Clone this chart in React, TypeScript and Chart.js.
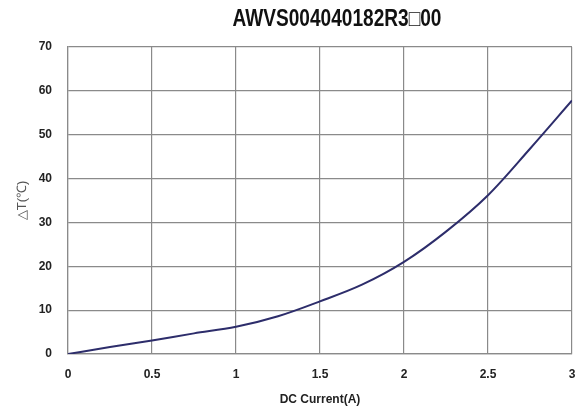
import React, { useEffect, useRef } from "react";
import { Chart, registerables } from "chart.js";

Chart.register(...registerables);

const chartTitle = "AWVS004040182R3□00";
const xAxisTitle = "DC Current(A)";
const yAxisTitle = "△T(℃)";
const currents = [0, 0.25, 0.5, 0.75, 1, 1.25, 1.5, 1.75, 2, 2.25, 2.5, 2.75, 3];
const deltaT = [0, 1.6, 3.1, 4.7, 6.2, 8.6, 12.0, 15.8, 21, 27.9, 36.2, 46.8, 57.8];
const xTicks = [0, 0.5, 1, 1.5, 2, 2.5, 3];
const yTicks = [0, 10, 20, 30, 40, 50, 60, 70];

const titlePlugin = {
  id: "customTitle",
  afterDraw(chart: any) {
    const { ctx, chartArea } = chart;
    ctx.save();
    ctx.translate((chartArea.left + chartArea.right) / 2 + 17, 20);
    ctx.scale(0.83, 1);
    ctx.font = "bold 23px 'Liberation Sans', Arial, sans-serif";
    ctx.fillStyle = "#111";
    ctx.textAlign = "center";
    ctx.textBaseline = "middle";
    ctx.fillText(chartTitle, 0, 0);
    ctx.restore();
  },
};

export default function App() {
  const ref = useRef<HTMLCanvasElement>(null);
  useEffect(() => {
    if (!ref.current) return;
    const points = currents.map((x, i) => ({ x, y: deltaT[i] }));
    const gridColor = "#8a8a8a";
    const chart = new Chart(ref.current, {
      type: "line",
      data: {
        datasets: [
          {
            data: points,
            borderColor: "#2d2d6b",
            borderWidth: 2,
            pointRadius: 0,
            cubicInterpolationMode: "monotone",
            fill: false,
          },
        ],
      },
      options: {
        animation: false,
        responsive: true,
        maintainAspectRatio: false,
        layout: { padding: { top: 47, right: 0, left: 0, bottom: 0 } },
        plugins: {
          legend: { display: false },
          tooltip: { enabled: false },
          title: { display: false },
        },
        scales: {
          x: {
            type: "linear",
            min: 0,
            max: 3,
            afterBuildTicks: (scale: any) => {
              scale.ticks = xTicks.map((v) => ({ value: v }));
            },
            afterFit: (scale: any) => {
              scale.height = 58;
              scale.paddingRight = 8;
            },
            ticks: {
              padding: 13,
              color: "#222",
              font: { family: "'Liberation Sans', Arial, sans-serif", size: 12, weight: "bold" },
              callback: (v: any) => String(v),
              maxRotation: 0,
            },
            grid: { color: gridColor, lineWidth: 1.2, drawTicks: false },
            border: { color: gridColor, width: 1.2 },
            title: {
              display: true,
              text: xAxisTitle,
              color: "#222",
              font: { family: "'Liberation Sans', Arial, sans-serif", size: 12, weight: "bold" },
              padding: { top: 0, bottom: 5 },
            },
          },
          y: {
            type: "linear",
            min: 0,
            max: 70,
            afterBuildTicks: (scale: any) => {
              scale.ticks = yTicks.map((v) => ({ value: v }));
            },
            afterFit: (scale: any) => {
              scale.width = 68;
            },
            ticks: {
              padding: 16,
              color: "#222",
              font: { family: "'Liberation Sans', Arial, sans-serif", size: 12, weight: "bold" },
            },
            grid: { color: gridColor, lineWidth: 1.2, drawTicks: false },
            border: { color: gridColor, width: 1.2 },
            title: {
              display: true,
              text: yAxisTitle,
              color: "#555",
              font: { family: "'Liberation Sans', Arial, sans-serif", size: 13 },
              padding: { top: 15, bottom: 0 },
            },
          },
        },
      },
      plugins: [titlePlugin],
    } as any);
    return () => chart.destroy();
  }, []);

  return (
    <div style={{ position: "fixed", left: 0, top: 0, width: 580, height: 412, background: "#fff" }}>
      <canvas ref={ref} />
    </div>
  );
}
